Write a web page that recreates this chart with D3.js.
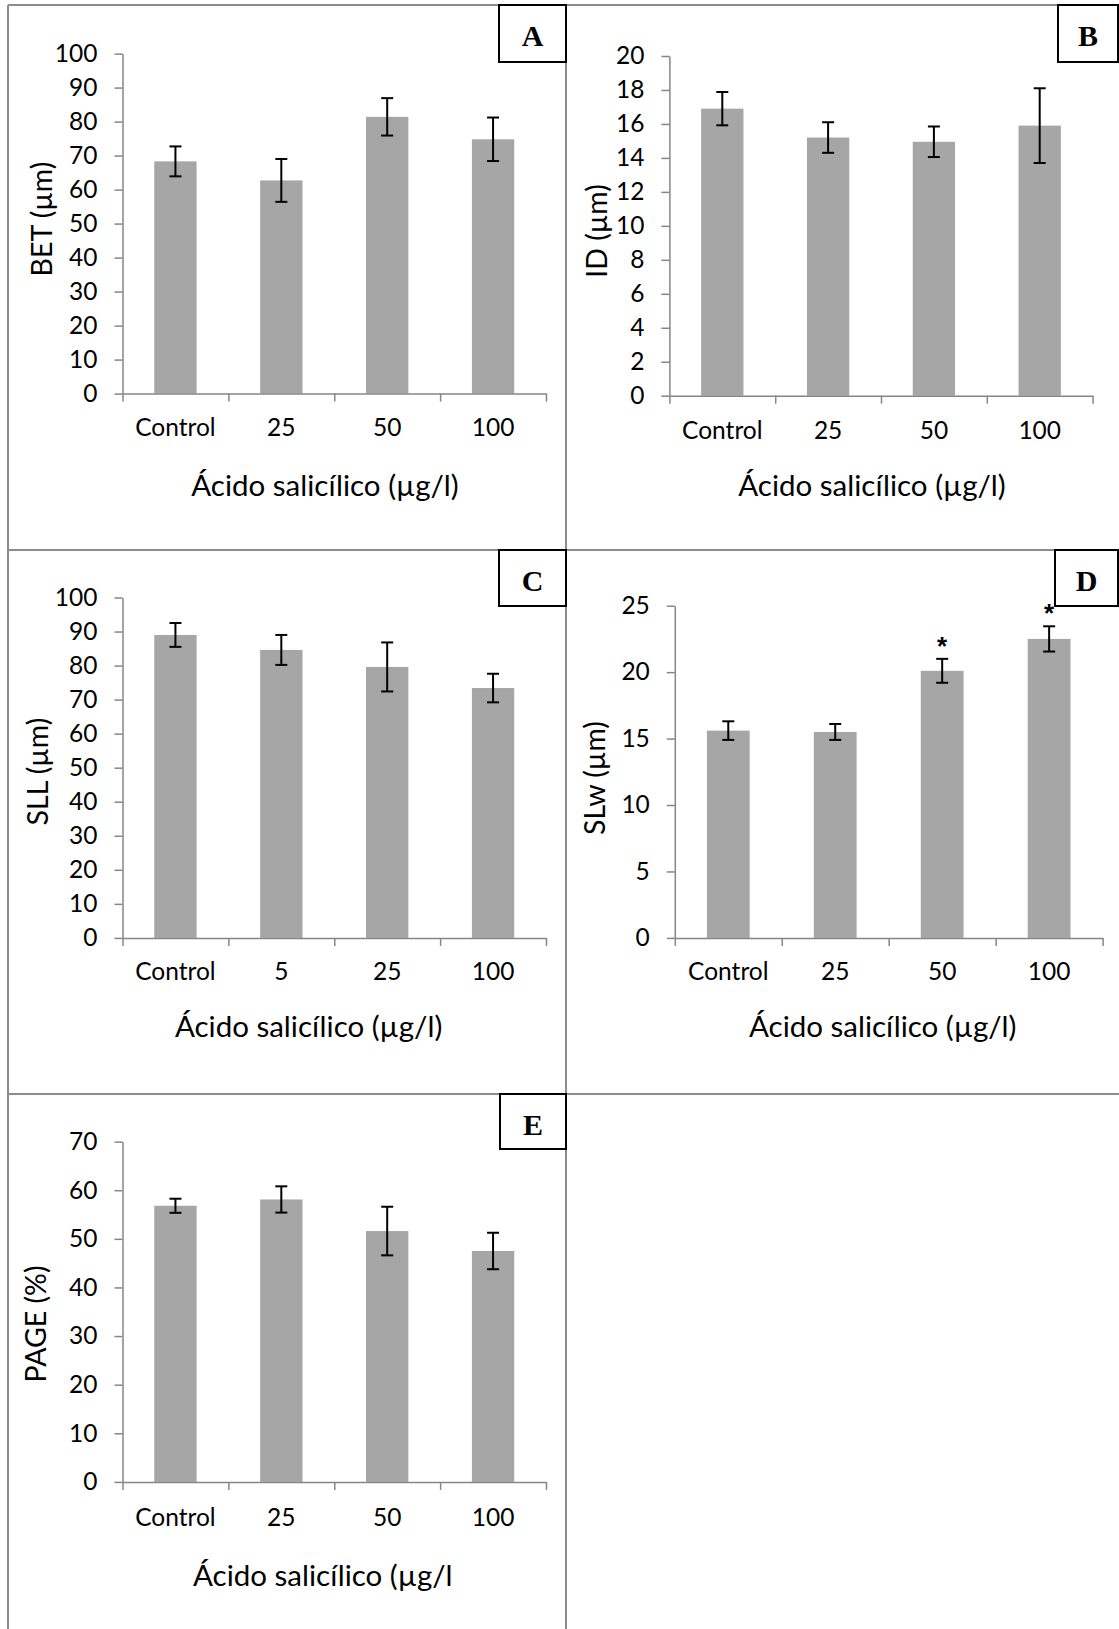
<!DOCTYPE html>
<html>
<head>
<meta charset="utf-8">
<script src="https://cdn.jsdelivr.net/npm/d3@7"></script>
<style>
  body { margin: 0; background: #fff; }
  svg { display: block; }
  text { font-family: Lato, 'Open Sans', sans-serif; fill: #000; }
</style>
</head>
<body>
<svg id="main"></svg>
<script>
// data
const catsMain = ['Control', '25', '50', '100']
const catsSll = ['Control', '5', '25', '100']

const betMeans = [68.3, 62.7, 81.4, 74.8]
const betErr = [4.4, 6.3, 5.5, 6.4]
const idMeans = [16.9, 15.2, 14.95, 15.9]
const idErr = [0.98, 0.9, 0.9, 2.2]
const sllMeans = [89.0, 84.6, 79.6, 73.4]
const sllErr = [3.5, 4.4, 7.2, 4.2]
const slwMeans = [15.6, 15.5, 20.1, 22.5]
const slwErr = [0.7, 0.6, 0.9, 0.95]
const slwSig = [false, false, true, true]
const pageMeans = [56.8, 58.1, 51.6, 47.5]
const pageErr = [1.45, 2.7, 5.0, 3.75]

const xTitle = 'Ácido salicílico (µg/l)'
const xTitleE = 'Ácido salicílico (µg/l'

let width = 1119
let height = 1629

let svg = d3.select('#main')
    .attr('width', width)
    .attr('height', height)

const panels = [
    { letter: 'A', cats: catsMain, means: betMeans, errs: betErr, max: 100, step: 10, yTitle: 'BET (µm)', xTitle: xTitle,
      x0: 122.5, x1: 546, yTop: 53.6, yBot: 393.6, catY: 427.5, xtX: 325, xtY: 484, ytX: 41, ytY: 219,
      box: [499, 5, 67, 57] },
    { letter: 'B', cats: catsMain, means: idMeans, errs: idErr, max: 20, step: 2, yTitle: 'ID (µm)', xTitle: xTitle,
      x0: 669.4, x1: 1092.6, yTop: 56, yBot: 395.7, catY: 431, xtX: 872, xtY: 484, ytX: 596, ytY: 231,
      box: [1058, 5, 60, 57] },
    { letter: 'C', cats: catsSll, means: sllMeans, errs: sllErr, max: 100, step: 10, yTitle: 'SLL (µm)', xTitle: xTitle,
      x0: 122.5, x1: 546, yTop: 597.5, yBot: 937.9, catY: 971.8, xtX: 308.6, xtY: 1025, ytX: 37, ytY: 771.5,
      box: [499, 550, 67, 56] },
    { letter: 'D', cats: catsMain, means: slwMeans, errs: slwErr, sig: slwSig, max: 25, step: 5, yTitle: 'SLw (µm)', xTitle: xTitle,
      x0: 674.8, x1: 1102.6, yTop: 605.7, yBot: 937.9, catY: 971.8, xtX: 882.7, xtY: 1025, ytX: 594, ytY: 778,
      box: [1055, 550, 63, 56] },
    { letter: 'E', cats: catsMain, means: pageMeans, errs: pageErr, max: 70, step: 10, yTitle: 'PAGE (%)', xTitle: xTitleE,
      x0: 122.5, x1: 546, yTop: 1141.6, yBot: 1481.9, catY: 1517.3, xtX: 322.8, xtY: 1574.7, ytX: 35, ytY: 1324,
      box: [500, 1094, 66, 55] }
]

const drawFrame = () => {
    const lines = [[8, 5, 1119, 5], [8, 5, 8, 1629], [566, 5, 566, 1629], [8, 550, 1119, 550], [8, 1094, 1119, 1094]]
    svg.append('g')
        .selectAll('line')
        .data(lines)
        .enter()
        .append('line')
        .attr('x1', d => d[0]).attr('y1', d => d[1])
        .attr('x2', d => d[2]).attr('y2', d => d[3])
        .attr('stroke', '#8c8c8c')
        .attr('stroke-width', 2)
}

const drawPanel = p => {
    let g = svg.append('g')
    let n = p.cats.length

    let yScale = d3.scaleLinear()
        .domain([0, p.max])
        .range([p.yBot, p.yTop])

    let xScale = d3.scaleBand()
        .domain(p.cats)
        .range([p.x0, p.x1])
        .paddingInner(0.6)
        .paddingOuter(0.3)

    let edgeScale = d3.scaleLinear()
        .domain([0, n])
        .range([p.x0, p.x1])

    // bars
    g.selectAll('rect.bar')
        .data(p.means)
        .enter()
        .append('rect')
        .attr('class', 'bar')
        .attr('x', (d, i) => xScale(p.cats[i]))
        .attr('width', xScale.bandwidth())
        .attr('y', d => yScale(d))
        .attr('height', d => yScale(0) - yScale(d))
        .attr('fill', '#a6a6a6')

    // y axis
    let yAxis = d3.axisLeft(yScale)
        .tickValues(d3.range(0, p.max + p.step / 2, p.step))
        .tickSize(8)
        .tickSizeOuter(0)
        .tickPadding(17)
    let ya = g.append('g')
        .attr('transform', `translate(${p.x0}, 0)`)
        .call(yAxis)

    // x axis: ticks on category edges
    let edgeAxis = d3.axisBottom(edgeScale)
        .tickValues(d3.range(0, n + 1))
        .tickSize(8)
        .tickSizeOuter(0)
        .tickFormat('')
    let xa = g.append('g')
        .attr('transform', `translate(0, ${p.yBot})`)
        .call(edgeAxis)

    let labelAxis = d3.axisBottom(xScale)
        .tickSize(0)
        .tickPadding(p.catY - p.yBot - 9)
    let la = g.append('g')
        .attr('transform', `translate(0, ${p.yBot})`)
        .call(labelAxis)
    la.select('.domain').remove()

    ;[ya, xa].forEach(a => {
        a.selectAll('.domain, .tick line').attr('stroke', '#868686').attr('stroke-width', 1.5)
    })
    ;[ya, la].forEach(a => {
        a.selectAll('text').attr('fill', '#000').style('font-size', '24.5px').style('font-family', 'Lato, sans-serif')
    })

    // error bars
    const cx = i => xScale(p.cats[i]) + xScale.bandwidth() / 2
    let eb = g.append('g').attr('stroke', '#000').attr('stroke-width', 2)
    eb.selectAll('line.stem')
        .data(p.means)
        .enter()
        .append('line')
        .attr('x1', (d, i) => cx(i)).attr('x2', (d, i) => cx(i))
        .attr('y1', (d, i) => yScale(d + p.errs[i]))
        .attr('y2', (d, i) => yScale(d - p.errs[i]))
    ;[1, -1].forEach(s => {
        eb.selectAll('line.cap' + s)
            .data(p.means)
            .enter()
            .append('line')
            .attr('x1', (d, i) => cx(i) - 6).attr('x2', (d, i) => cx(i) + 6)
            .attr('y1', (d, i) => yScale(d + s * p.errs[i]))
            .attr('y2', (d, i) => yScale(d + s * p.errs[i]))
    })

    // significance marks
    if (p.sig) {
        g.selectAll('text.sig')
            .data(p.means.map((d, i) => i).filter(i => p.sig[i]))
            .enter()
            .append('text')
            .attr('class', 'sig')
            .attr('x', i => cx(i))
            .attr('y', i => yScale(p.means[i] + p.errs[i]) - 4)
            .attr('text-anchor', 'middle')
            .style('font-family', "'Liberation Sans', Arial, sans-serif")
            .style('font-weight', 'bold')
            .style('font-size', '26px')
            .text('*')
    }

    // axis titles
    g.append('text')
        .attr('x', p.xtX)
        .attr('y', p.xtY)
        .attr('text-anchor', 'middle')
        .attr('dominant-baseline', 'central')
        .style('font-size', '29.5px')
        .text(p.xTitle)

    g.append('text')
        .attr('transform', `translate(${p.ytX}, ${p.ytY}) rotate(-90)`)
        .attr('text-anchor', 'middle')
        .attr('dominant-baseline', 'central')
        .style('font-size', '28.5px')
        .text(p.yTitle)

    // panel letter box
    let [bx, by, bw, bh] = p.box
    g.append('rect')
        .attr('x', bx).attr('y', by)
        .attr('width', bw).attr('height', bh)
        .attr('fill', '#fff')
        .attr('stroke', '#000')
        .attr('stroke-width', 2)
    g.append('text')
        .attr('x', bx + bw / 2)
        .attr('y', by + 41)
        .attr('text-anchor', 'middle')
        .style('font-family', "'Liberation Serif', 'Times New Roman', serif")
        .style('font-weight', 'bold')
        .style('font-size', '30px')
        .text(p.letter)
}

drawFrame()
panels.forEach(drawPanel)
</script>
</body>
</html>
